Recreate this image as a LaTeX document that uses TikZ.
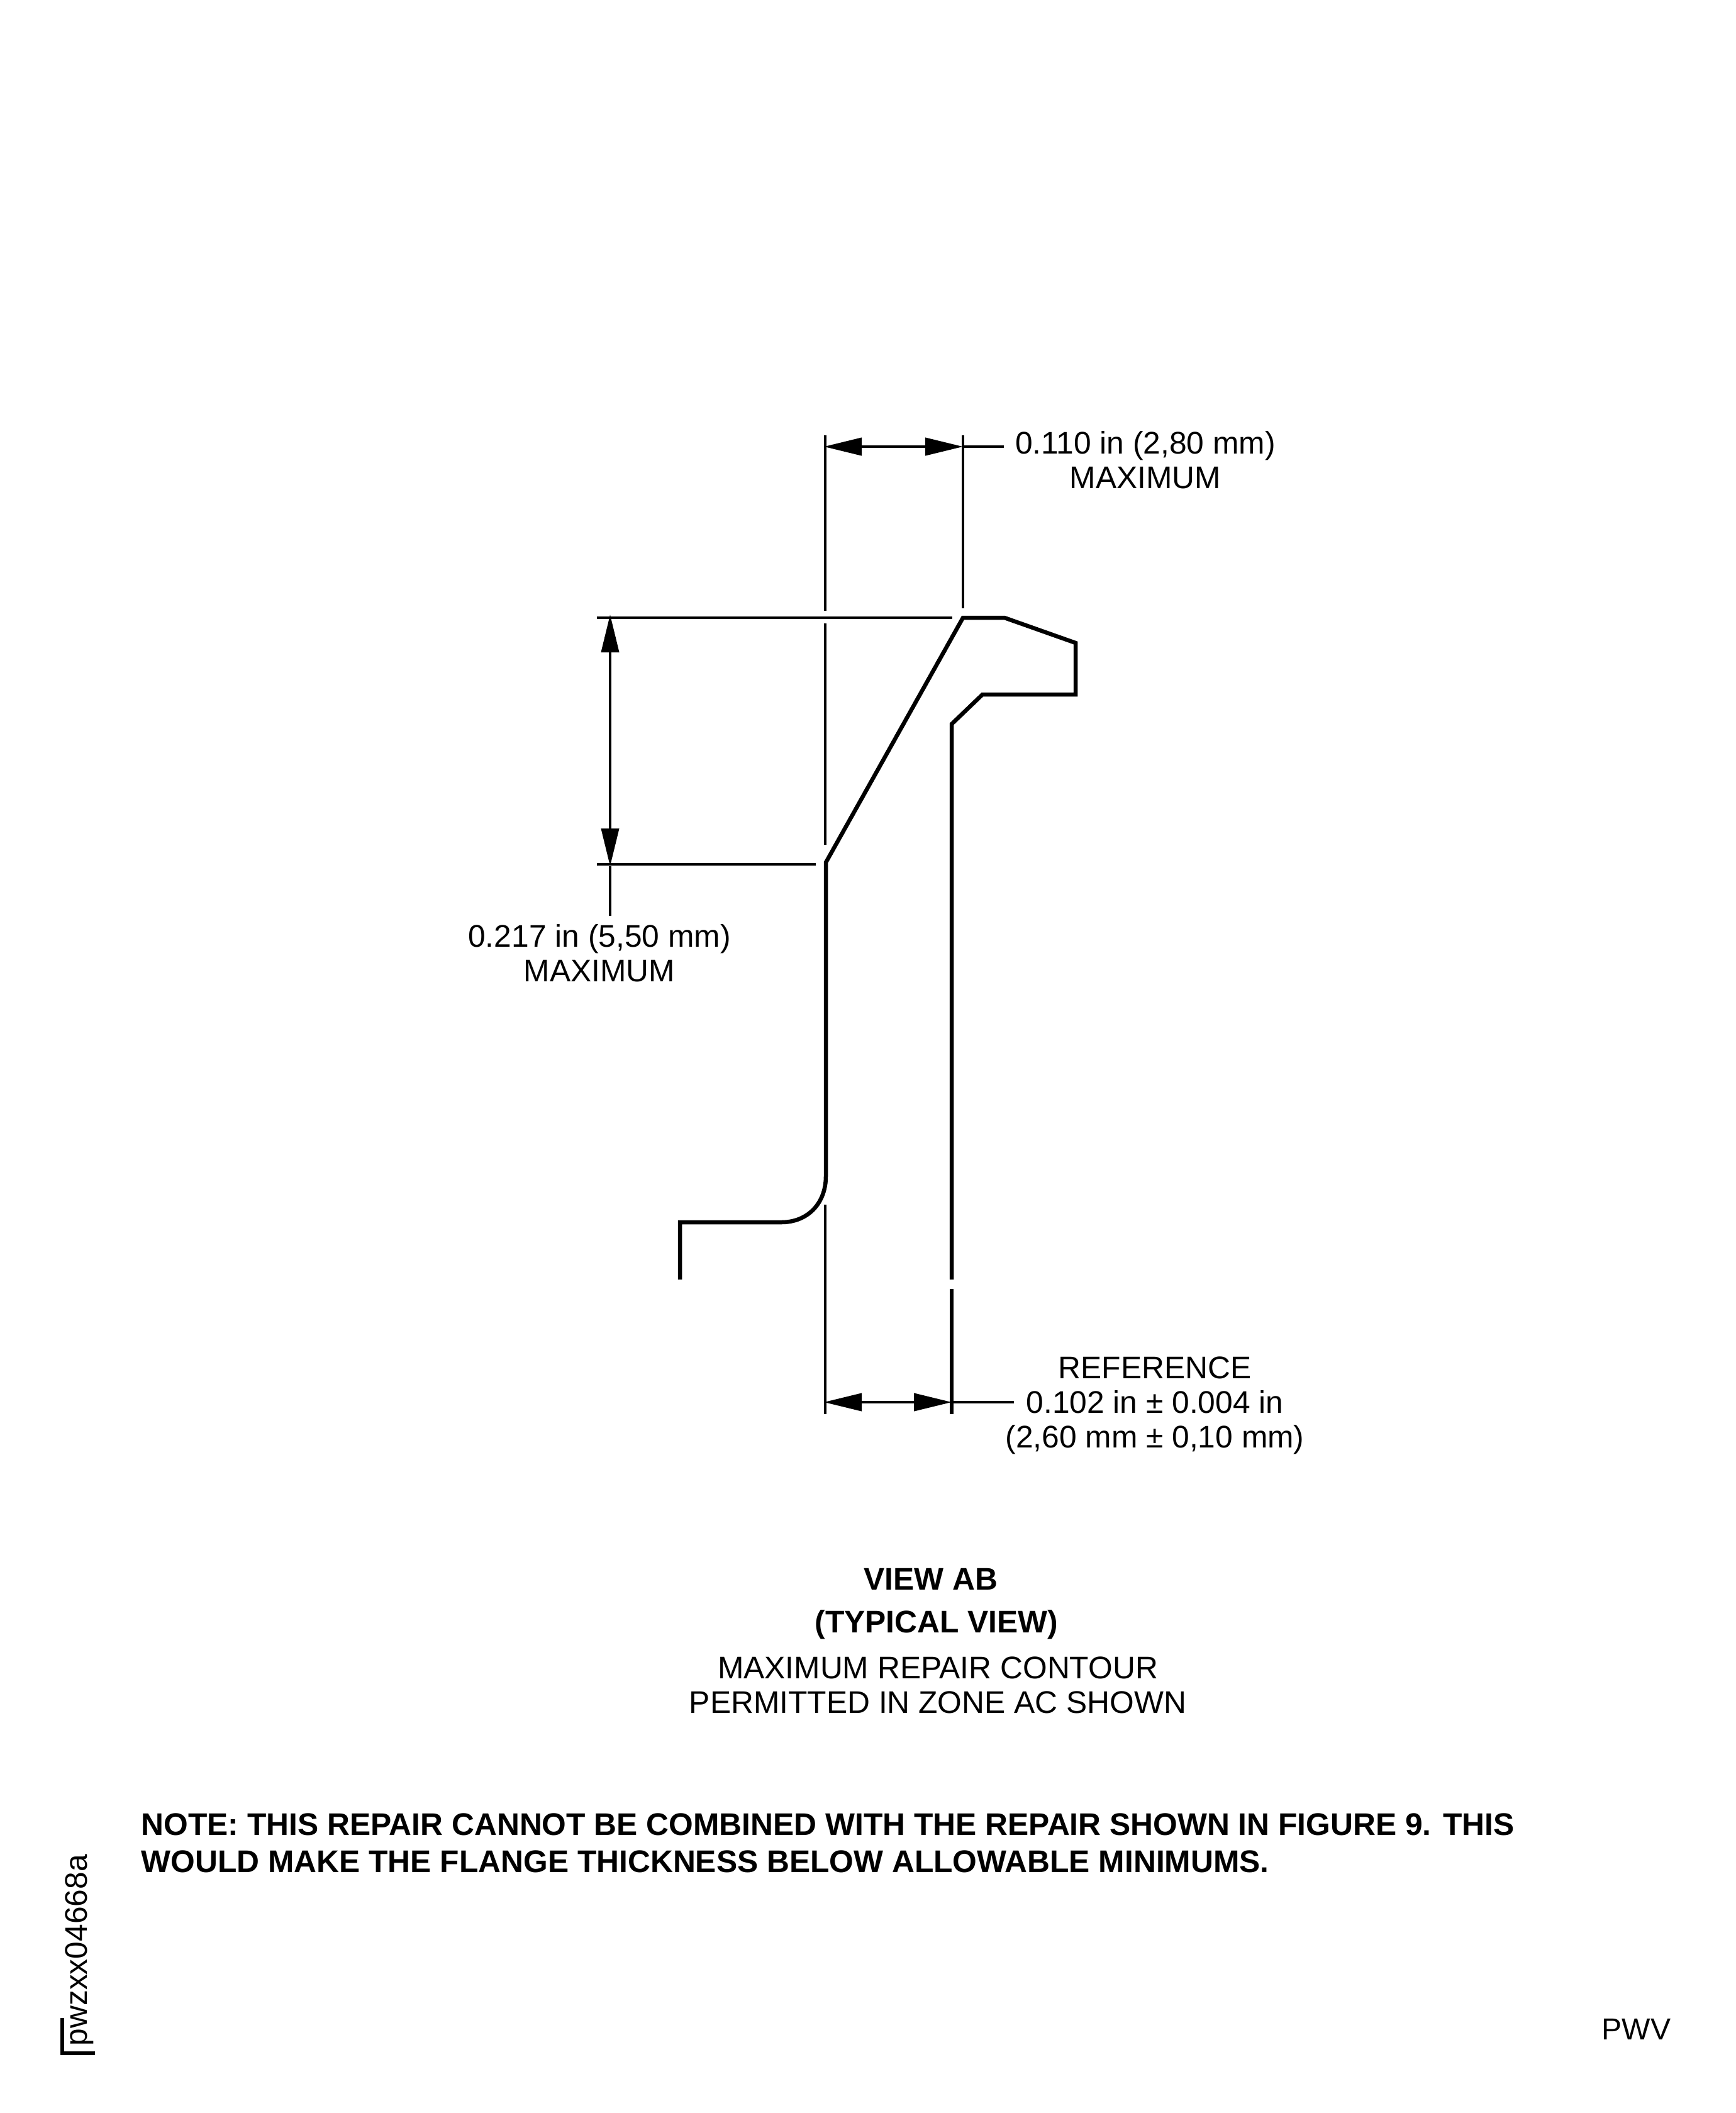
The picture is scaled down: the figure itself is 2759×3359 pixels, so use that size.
\documentclass[tikz,border=0pt]{standalone}
\usepackage{fontspec}
\setmainfont{Liberation Sans}
\usetikzlibrary{arrows.meta}

\tikzset{
  profile/.style={draw=black, line width=0.65mm, line join=miter},
  thinline/.style={draw=black, line width=0.4mm},
  dimline/.style={thinline, {Triangle[length=6mm,width=2.8mm]}-{Triangle[length=6mm,width=2.8mm]}},
  dimtext/.style={font=\fontsize{14.15pt}{15.65pt}\selectfont, align=center, inner sep=0pt},
  boldtext/.style={font=\fontsize{14.15pt}{16.9pt}\selectfont\bfseries, align=left, inner sep=0pt},
  marktext/.style={font=\fontsize{13.7pt}{15.65pt}\selectfont, inner sep=0pt},
}

\begin{document}
\begin{tikzpicture}[x=0.1mm, y=-0.1mm]
  \useasboundingbox (0,0) rectangle (2759,3359);

  % Repair contour corners
  \coordinate (flatL) at (1531,982);
  \coordinate (flatR) at (1597,982);
  \coordinate (lipT) at (1710,1022);
  \coordinate (lipB) at (1710,1104);
  \coordinate (lipI) at (1562,1104);
  \coordinate (inner) at (1513,1151);
  \coordinate (innerE) at (1513,2034);
  \coordinate (chamf) at (1313,1371);
  \coordinate (filT) at (1313,1870);
  \coordinate (filB) at (1242,1943);
  \coordinate (footL) at (1081,1943);
  \coordinate (footE) at (1081,2034);

  % Profile
  \draw[profile] (footE) -- (footL) -- (filB)
    .. controls (1285,1943) and (1313,1912) .. (filT)
    -- (chamf) -- (flatL) -- (flatR) -- (lipT) -- (lipB) -- (lipI) -- (inner) -- (innerE);

  % Witness lines
  \coordinate (witAt) at (1312,692);
  \coordinate (witAb) at (1312,971);
  \coordinate (witAc) at (1312,991);
  \coordinate (witAd) at (1312,1343);
  \coordinate (witBt) at (1531,692);
  \coordinate (witBb) at (1531,967);
  \coordinate (witCt) at (1312,1915);
  \coordinate (witCb) at (1312,2248);
  \coordinate (witDt) at (1513,2049);
  \coordinate (witDb) at (1513,2248);
  \coordinate (horAl) at (949,982);
  \coordinate (horAr) at (1514,982);
  \coordinate (horBl) at (949,1374);
  \coordinate (horBr) at (1297,1374);
  \draw[thinline] (witAt) -- (witAb) (witAc) -- (witAd) (witBt) -- (witBb);
  \draw[thinline] (witCt) -- (witCb);
  \draw[profile] (witDt) -- (witDb);
  \draw[thinline] (horAl) -- (horAr) (horBl) -- (horBr);

  % Dimensions
  \coordinate (dimAl) at (1310,710);
  \coordinate (dimAr) at (1531,710);
  \coordinate (dimAe) at (1596,710);
  \draw[dimline] (dimAl) -- (dimAr);
  \draw[thinline] (dimAr) -- (dimAe);

  \coordinate (dimBt) at (970,977);
  \coordinate (dimBb) at (970,1377);
  \coordinate (dimBe) at (970,1456);
  \draw[dimline] (dimBt) -- (dimBb);
  \draw[thinline] (dimBb) -- (dimBe);

  \coordinate (dimCl) at (1310,2229);
  \coordinate (dimCr) at (1513,2229);
  \coordinate (dimCe) at (1612,2229);
  \draw[dimline] (dimCl) -- (dimCr);
  \draw[thinline] (dimCr) -- (dimCe);

  % Labels
  \node[dimtext] (lblA) at (1821,731) {0.110 in (2,80 mm)\\MAXIMUM};
  \node[dimtext] (lblB) at (953,1515) {0.217 in (5,50 mm)\\MAXIMUM};
  \node[dimtext] (lblC) at (1836,2234) {REFERENCE\\0.102 in ± 0.004 in\\(2,60 mm ± 0,10 mm)};

  % Caption
  \node[boldtext] (capA) at (1480,2510) {VIEW AB};
  \node[boldtext] (capB) at (1489,2583) {(TYPICAL VIEW)};
  \node[dimtext] (capC) at (1491,2679) {MAXIMUM REPAIR CONTOUR\\PERMITTED IN ZONE AC SHOWN};
  \node[boldtext, anchor=west] (note) at (224,2930) {NOTE: THIS REPAIR CANNOT BE COMBINED WITH THE REPAIR SHOWN IN FIGURE 9. THIS\\WOULD MAKE THE FLANGE THICKNESS BELOW ALLOWABLE MINIMUMS.};

  % Sheet marks
  \node[marktext, anchor=base east] (sheet) at (2657,3242) {PWV};
  \node[dimtext, rotate=90, anchor=base west] (drawno) at (138,3253) {pwzxx04668a};
  \coordinate (brkT) at (99,3208);
  \coordinate (brkC) at (99,3264);
  \coordinate (brkE) at (151,3264);
  \draw[profile] (brkT) -- (brkC) -- (brkE);
\end{tikzpicture}
\end{document}
